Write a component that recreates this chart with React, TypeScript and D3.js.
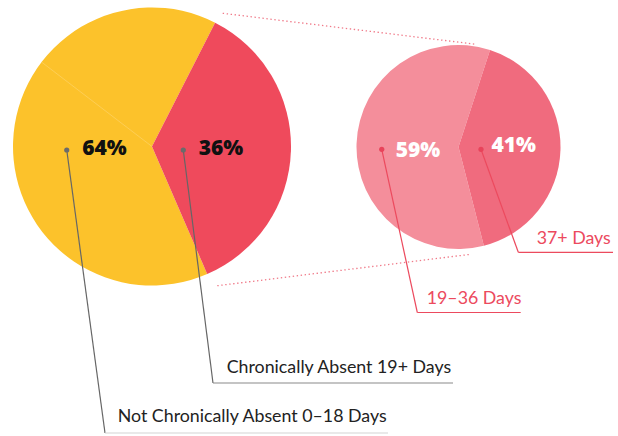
import React from "react";
import * as d3 from "d3";

// ---- data ----
const mainCategories = ["Not Chronically Absent 0–18 Days", "Chronically Absent 19+ Days"];
const mainValues = [64, 36];
const mainColors = ["#FCC22B", "#EF4A5C"];

const subCategories = ["19–36 Days", "37+ Days"];
const subValues = [59, 41];
const subColors = ["#F48E9B", "#F06B7E"];

// ---- layout ----
const W = 618;
const H = 436;
const BIG = { cx: 152, cy: 146.5, r: 139 };
const SMALL = { cx: 458.5, cy: 147, r: 102 };
const MID_ANGLE = (91.8 * Math.PI) / 180; // angle at which the second slice is centered

function makePie(values: number[]) {
  const total = d3.sum(values);
  const lastShare = values[values.length - 1] / total;
  const start = MID_ANGLE + lastShare * Math.PI;
  return d3
    .pie<number>()
    .sort(null)
    .value((d) => d)
    .startAngle(start)
    .endAngle(start + 2 * Math.PI)(values);
}

function polar(c: { cx: number; cy: number }, angle: number, radius: number) {
  return [c.cx + radius * Math.sin(angle), c.cy - radius * Math.cos(angle)];
}

export default function App() {
  const bigArcs = makePie(mainValues);
  const smallArcs = makePie(subValues);
  const bigArc = d3.arc<d3.PieArcDatum<number>>().innerRadius(0).outerRadius(BIG.r);
  const smallArc = d3.arc<d3.PieArcDatum<number>>().innerRadius(0).outerRadius(SMALL.r);
  const mid = (d: d3.PieArcDatum<number>) => (d.startAngle + d.endAngle) / 2;

  const bigPct = [
    { r: 47.6, dy: 8.5 },
    { r: 69, dy: 8.5 },
  ];
  const bigDot = [
    { r: 85.3, dy: 3.5 },
    { r: 31.3, dy: 3.5 },
  ];
  const bigLeader = [
    { end: [105, 433], lineEnd: 388, textX: 117.7, textY: 421.7, under: "#d4d4d4" },
    { end: [213, 383], lineEnd: 453, textX: 226.7, textY: 373.3, under: "#8a8a8a" },
  ];
  const smallPct = [
    { r: 40.5, dy: 9.7 },
    { r: 55.2, dy: 4.7 },
  ];
  const smallDot = [
    { r: 76.8, dy: 2.3 },
    { r: 22.5, dy: 2.3 },
  ];
  const smallLeader = [
    { end: [417.3, 312.5], lineEnd: 520.7, textX: 426.7, textY: 304.3 },
    { end: [518.3, 252.3], lineEnd: 613, textX: 536.7, textY: 244 },
  ];

  const pctFont = "'Open Sans', sans-serif";
  const labelFont = "Lato, 'Open Sans', sans-serif";
  const labelSize = 17.8;
  const seamAngle = (307.4 * Math.PI) / 180;
  const seamEnd = polar(BIG, seamAngle, BIG.r);

  return (
    <svg width={W} height={H} style={{ position: "absolute", left: 0, top: 0, background: "#fff" }}>
      {/* connector dotted lines */}
      <line x1={222.7} y1={13.3} x2={476} y2={44.3} stroke="#F07A89" strokeWidth={1.3} strokeDasharray="1.4 2.6" />
      <line x1={217.3} y1={285.7} x2={470.7} y2={254.3} stroke="#F07A89" strokeWidth={1.3} strokeDasharray="1.4 2.6" />

      {/* big pie */}
      <g transform={`translate(${BIG.cx},${BIG.cy})`}>
        {bigArcs.map((d, i) => (
          <path key={i} d={bigArc(d) || ""} fill={mainColors[i]} />
        ))}
      </g>
      <line x1={BIG.cx} y1={BIG.cy} x2={seamEnd[0]} y2={seamEnd[1]} stroke="#FFE3A0" strokeOpacity={0.6} strokeWidth={0.6} />

      {/* small pie */}
      <g transform={`translate(${SMALL.cx},${SMALL.cy})`}>
        {smallArcs.map((d, i) => (
          <path key={i} d={smallArc(d) || ""} fill={subColors[i]} />
        ))}
      </g>

      {/* big pie leaders & labels */}
      {bigArcs.map((d, i) => {
        const a = mid(d);
        const dot = polar(BIG, a, bigDot[i].r);
        const dotY = BIG.cy + bigDot[i].dy;
        const pct = polar(BIG, a, bigPct[i].r);
        const L = bigLeader[i];
        return (
          <g key={i}>
            <line x1={dot[0]} y1={dotY} x2={L.end[0]} y2={L.end[1]} stroke="#666" strokeWidth={1.2} />
            <line x1={L.end[0]} y1={L.end[1]} x2={L.lineEnd} y2={L.end[1]} stroke={L.under} strokeWidth={1.2} />
            <circle cx={dot[0]} cy={dotY} r={2.6} fill="#6b6b6b" />
            <text x={pct[0]} y={BIG.cy + bigPct[i].dy} textAnchor="middle" fontFamily={pctFont} fontWeight={800} fontSize={21} fill="#111">
              {mainValues[i]}%
            </text>
            <text x={L.textX} y={L.textY} fontFamily={labelFont} fontSize={labelSize} fill="#222">
              {mainCategories[i]}
            </text>
          </g>
        );
      })}

      {/* small pie leaders & labels */}
      {smallArcs.map((d, i) => {
        const a = mid(d);
        const dot = polar(SMALL, a, smallDot[i].r);
        const dotY = SMALL.cy + smallDot[i].dy;
        const pct = polar(SMALL, a, smallPct[i].r);
        const L = smallLeader[i];
        return (
          <g key={i}>
            <line x1={dot[0]} y1={dotY} x2={L.end[0]} y2={L.end[1]} stroke="#EC4A5E" strokeWidth={1.2} />
            <line x1={L.end[0]} y1={L.end[1]} x2={L.lineEnd} y2={L.end[1]} stroke="#EC4A5E" strokeWidth={1.2} />
            <circle cx={dot[0]} cy={dotY} r={2.6} fill="#E8435A" />
            <text x={pct[0]} y={SMALL.cy + smallPct[i].dy} textAnchor="middle" fontFamily={pctFont} fontWeight={800} fontSize={21} fill="#fff">
              {subValues[i]}%
            </text>
            <text x={L.textX} y={L.textY} fontFamily={labelFont} fontSize={labelSize} fill="#EC4A5E">
              {subCategories[i]}
            </text>
          </g>
        );
      })}
    </svg>
  );
}
